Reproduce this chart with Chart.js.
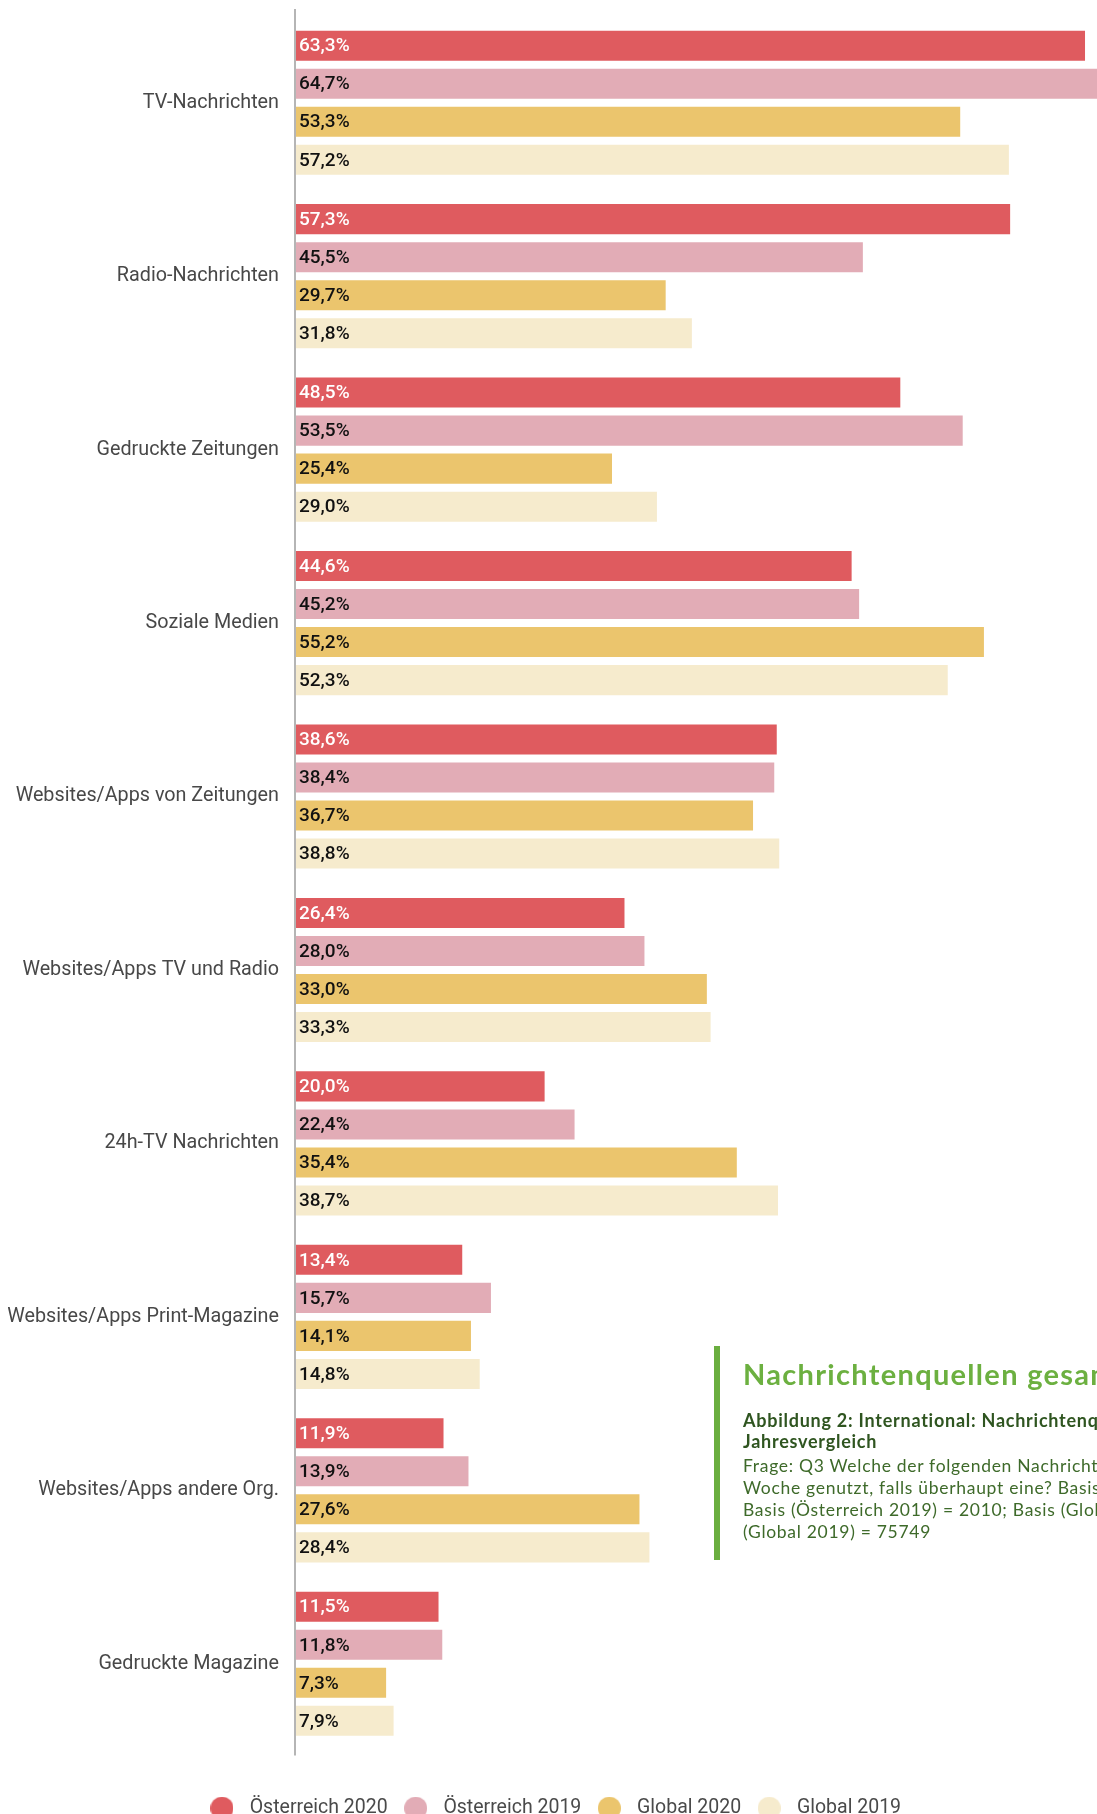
<!DOCTYPE html>
<html lang="de">
<head>
<meta charset="utf-8">
<title>Nachrichtenquellen gesamt</title>
<script src="https://cdn.jsdelivr.net/npm/chart.js@4/dist/chart.umd.min.js"></script>
<style>
  html, body {
    margin: 0;
    padding: 0;
    background: #fff;
    width: 1097px;
    height: 1814px;
    overflow: hidden;
  }
  #wrap {
    position: relative;
    width: 1097px;
    height: 1828px;
  }
  #chart {
    display: block;
  }
  .note {
    position: absolute;
    left: 714px;
    top: 1346px;
    width: 377px;
    height: 214px;
    border-left: 6px solid #6aae3f;
    padding-left: 23px;
    overflow: hidden;
    font-family: "Lato", sans-serif;
    white-space: nowrap;
  }
  .note h2 {
    margin: 11px 0 0 0;
    font-size: 29px;
    letter-spacing: 1.3px;
    line-height: 34px;
    font-weight: 700;
    color: #6cb040;
  }
  .note h3 {
    margin: 19px 0 0 0;
    font-size: 18px;
    letter-spacing: 0.75px;
    line-height: 21px;
    font-weight: 700;
    color: #2f5520;
  }
  .note p {
    margin: 3px 0 0 0;
    font-size: 17.5px;
    letter-spacing: 0.7px;
    line-height: 22px;
    color: #3e6a2a;
  }
</style>
</head>
<body>
<div id="wrap">
  <canvas id="chart" width="1097" height="1828"></canvas>
  <div class="note">
    <h2>Nachrichtenquellen gesamt</h2>
    <h3>Abbildung 2: International: Nachrichtenquellen im<br>Jahresvergleich</h3>
    <p>Frage: Q3 Welche der folgenden Nachrichtenquellen haben Sie letzte<br>Woche genutzt, falls überhaupt eine? Basis (Österreich 2020) = 2000;<br>Basis (Österreich 2019) = 2010; Basis (Global 2020) = 80155; Basis<br>(Global 2019) = 75749</p>
  </div>
</div>

<script>
// ===== DATA =====
const categories = [
  "TV-Nachrichten",
  "Radio-Nachrichten",
  "Gedruckte Zeitungen",
  "Soziale Medien",
  "Websites/Apps von Zeitungen",
  "Websites/Apps TV und Radio",
  "24h-TV Nachrichten",
  "Websites/Apps Print-Magazine",
  "Websites/Apps andere Org.",
  "Gedruckte Magazine"
];

const seriesNames = ["Österreich 2020", "Österreich 2019", "Global 2020", "Global 2019"];

const oesterreich2020 = [63.3, 57.3, 48.5, 44.6, 38.6, 26.4, 20.0, 13.4, 11.9, 11.5];
const oesterreich2019 = [64.7, 45.5, 53.5, 45.2, 38.4, 28.0, 22.4, 15.7, 13.9, 11.8];
const global2020 = [53.3, 29.7, 25.4, 55.2, 36.7, 33.0, 35.4, 14.1, 27.6, 7.3];
const global2019 = [57.2, 31.8, 29.0, 52.3, 38.8, 33.3, 38.7, 14.8, 28.4, 7.9];

const seriesColors = ["#df5b5f", "#e2acb6", "#ebc56d", "#f6ebcd"];
const labelColors = ["#ffffff", "#111111", "#111111", "#111111"];

// value axis: the picture is cut off at the right edge
const xMax = 64.26;

// ===== HELPERS =====
// round legend dot as a little canvas, so the legend box can be wider than the dot
function makeDot(color) {
  const c = document.createElement("canvas");
  c.width = 23;
  c.height = 23;
  const g = c.getContext("2d");
  g.fillStyle = color;
  g.beginPath();
  g.arc(11.5, 11.5, 11.5, 0, Math.PI * 2);
  g.fill();
  return c;
}

function fmt(v) {
  return v.toFixed(1).replace(".", ",") + "%";
}

// ===== PLUGINS =====
// value labels at the start of each bar
const barLabels = {
  id: "barLabels",
  afterDatasetsDraw(chart) {
    const ctx = chart.ctx;
    ctx.save();
    ctx.font = "500 19px Roboto";
    ctx.textBaseline = "middle";
    ctx.textAlign = "left";
    chart.data.datasets.forEach((ds, i) => {
      const meta = chart.getDatasetMeta(i);
      meta.data.forEach((bar, j) => {
        ctx.fillStyle = labelColors[i];
        ctx.fillText(fmt(ds.data[j]), bar.base + 4, bar.y + 1);
      });
    });
    ctx.restore();
  }
};

// grey vertical axis line, a bit longer than the plot area
const axisLine = {
  id: "axisLine",
  afterDraw(chart) {
    const a = chart.chartArea;
    const ctx = chart.ctx;
    ctx.save();
    ctx.strokeStyle = "#b5b5b5";
    ctx.lineWidth = 2;
    ctx.beginPath();
    ctx.moveTo(a.left, a.top - 7);
    ctx.lineTo(a.left, a.bottom + 5);
    ctx.stroke();
    ctx.restore();
  }
};

// ===== CHART =====
const seriesData = [oesterreich2020, oesterreich2019, global2020, global2019];

new Chart(document.getElementById("chart"), {
  type: "bar",
  data: {
    labels: categories,
    datasets: seriesNames.map((name, i) => ({
      label: name,
      data: seriesData[i],
      backgroundColor: seriesColors[i],
      borderWidth: 0,
      pointStyle: makeDot(seriesColors[i]),
      barPercentage: 0.79,
      categoryPercentage: 0.877
    }))
  },
  options: {
    indexAxis: "y",
    responsive: false,
    devicePixelRatio: 1,
    animation: false,
    layout: {
      padding: { top: 16, left: 8, right: 0, bottom: 0 }
    },
    scales: {
      x: {
        min: 0,
        max: xMax,
        ticks: { display: false },
        grid: { display: false, drawTicks: false },
        border: { display: false },
        afterFit(scale) {
          scale.height = 38;
        }
      },
      y: {
        ticks: {
          padding: 16,
          color: "#484848",
          font: { family: "Roboto", size: 19.75 }
        },
        grid: { display: false, drawTicks: false },
        border: { display: false },
        afterFit(scale) {
          scale.width = 287;
          // no extra room for the first/last label
          scale.paddingTop = 0;
          scale.paddingBottom = 0;
        }
      }
    },
    plugins: {
      legend: {
        position: "bottom",
        labels: {
          usePointStyle: true,
          pointStyleWidth: 36,
          boxHeight: 20,
          padding: 10,
          color: "#4a4a4a",
          font: { family: "Roboto", size: 19.5 }
        }
      },
      tooltip: { enabled: false }
    }
  },
  plugins: [barLabels, axisLine]
});
</script>
</body>
</html>
